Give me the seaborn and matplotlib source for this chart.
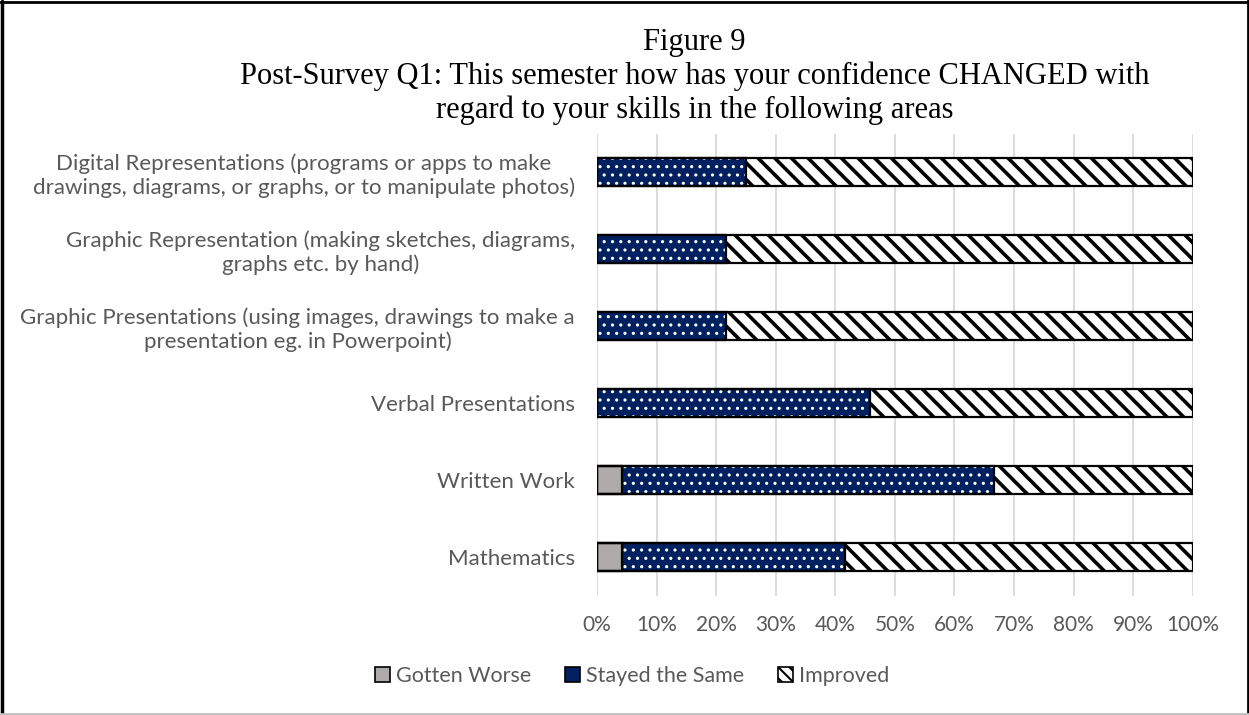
import matplotlib
matplotlib.use("Agg")
import matplotlib.pyplot as plt
from matplotlib.patches import Patch, Rectangle
from matplotlib.lines import Line2D
from matplotlib.ticker import PercentFormatter
import seaborn as sns
import pandas as pd

# Survey categories (top to bottom) and response shares in percent
categories = [
    "Digital Representations (programs or apps to make\ndrawings, diagrams, or graphs, or to manipulate photos)",
    "Graphic Representation (making sketches, diagrams,\ngraphs etc. by hand)",
    "Graphic Presentations (using images, drawings to make a\npresentation eg. in Powerpoint)",
    "Verbal Presentations",
    "Written Work",
    "Mathematics",
]
gotten_worse = [0.0, 0.0, 0.0, 0.0, 4.2, 4.2]
stayed_same = [25.0, 21.7, 21.7, 45.8, 62.5, 37.5]
improved = [75.0, 78.3, 78.3, 54.2, 33.3, 58.3]
series_names = ["Gotten Worse", "Stayed the Same", "Improved"]
x_ticks = [0, 10, 20, 30, 40, 50, 60, 70, 80, 90, 100]

df = pd.DataFrame({
    "category": categories,
    "Gotten Worse": gotten_worse,
    "Stayed the Same": stayed_same,
    "Improved": improved,
})
df["end_worse"] = df["Gotten Worse"]
df["end_same"] = df["end_worse"] + df["Stayed the Same"]
df["end_improved"] = df["end_same"] + df["Improved"]

sns.set_theme(style="white")
plt.rcParams["font.family"] = ["Lato", "DejaVu Sans"]

GREY = "#AEAAAA"
NAVY = "#002060"
TEXT = "#595959"


def set_hatch_lw(patch, lw):
    if hasattr(patch, "set_hatch_linewidth"):
        patch.set_hatch_linewidth(lw)
    else:
        patch._hatch_linewidth = lw


fig = plt.figure(figsize=(12.49, 7.15), dpi=100)
ax = fig.add_axes([0.478, 0.167, 0.477, 0.646])

bar_h = 0.37
# stacked segments drawn back to front as cumulative totals
styles = [
    ("end_improved", "white", "black", "\\\\", 2.6),
    ("end_same", NAVY, "white", "..", 1.1),
    ("end_worse", GREY, GREY, None, 1.0),
]
for col, face, hatch_col, hatch, hlw in styles:
    plt.rcParams["hatch.linewidth"] = hlw
    n_before = len(ax.patches)
    sns.barplot(data=df, x=col, y="category", orient="h", color=face,
                width=bar_h, saturation=1, ax=ax, zorder=2)
    for p in ax.patches[n_before:]:
        p.set_facecolor(face)
        p.set_edgecolor(hatch_col)
        p.set_linewidth(0)
        if hatch:
            p.set_hatch(hatch)
            set_hatch_lw(p, hlw)

# black outlines around each segment
for p in list(ax.patches):
    if p.get_width() > 0:
        ax.add_patch(Rectangle(p.get_xy(), p.get_width(), p.get_height(),
                               fill=False, ec="black", lw=1.6, zorder=3))

ax.set_xlim(0, 100)
ax.set_xticks(x_ticks)
ax.xaxis.set_major_formatter(PercentFormatter(decimals=0))
ax.grid(axis="x", color="#D9D9D9", lw=1.3, zorder=0)
ax.set_axisbelow(True)
for s in ax.spines.values():
    s.set_visible(False)
ax.set_xlabel("")
ax.set_ylabel("")
ax.tick_params(axis="x", colors=TEXT, labelsize=15, length=0, pad=14)
ax.tick_params(axis="y", colors=TEXT, labelsize=16, length=0, pad=16)
for lbl in ax.get_yticklabels():
    lbl.set_multialignment("center")
    lbl.set_color(TEXT)

# Title block
fig.text(0.556, 0.941, "Figure 9", ha="center", va="center",
         fontsize=22, family="Liberation Serif", color="black")
fig.text(0.556, 0.870,
         "Post-Survey Q1: This semester how has your confidence CHANGED with\n"
         "regard to your skills in the following areas",
         ha="center", va="center", fontsize=22, family="Liberation Serif",
         color="black", linespacing=1.2)

# Legend
plt.rcParams["hatch.linewidth"] = 1.5
handles = [
    Patch(facecolor=GREY, edgecolor="black", lw=1.2),
    Patch(facecolor=NAVY, edgecolor="black", lw=1.2),
    Patch(facecolor="white", edgecolor="black", lw=1.2, hatch="\\\\\\"),
]
fig.legend(handles, series_names, loc="center", bbox_to_anchor=(0.506, 0.055),
           ncol=3, frameon=False, fontsize=15.5, labelcolor=TEXT,
           handlelength=0.7, handleheight=0.7, handletextpad=0.3,
           columnspacing=1.55)

# Outer frame
fig.add_artist(Line2D([0.002, 0.002], [0, 0.998], transform=fig.transFigure, color="black", lw=2.5))
fig.add_artist(Line2D([0, 1], [0.997, 0.997], transform=fig.transFigure, color="black", lw=2))
fig.add_artist(Line2D([0.999, 0.999], [0, 1], transform=fig.transFigure, color="black", lw=2))
fig.add_artist(Line2D([0, 1], [0.002, 0.002], transform=fig.transFigure, color="#BFBFBF", lw=2))

fig.savefig("out.png", dpi=100)
